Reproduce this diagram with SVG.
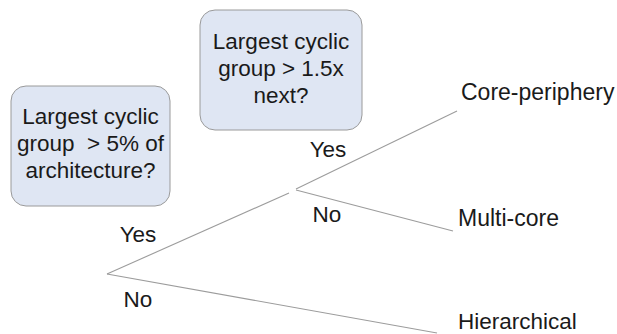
<svg xmlns="http://www.w3.org/2000/svg" width="617" height="334" viewBox="0 0 617 334">
<style>
.box{fill:#dfe6f3;stroke:#9a9a9a;stroke-width:1}
.t{font-family:"Liberation Sans",Arial,sans-serif;font-size:22.5px;fill:#1a1a1a}
.r{font-size:23px}
.c{text-anchor:middle}
.e{stroke:#9c9c9c;stroke-width:1.1;fill:none}
</style>
<rect width="617" height="334" fill="#ffffff"/>
<g id="q1">
<rect class="box" x="11" y="86" width="159" height="120" rx="15"/>
<text class="t c" x="90.5" y="124">Largest cyclic</text>
<text class="t c" x="90.5" y="151" xml:space="preserve">group  &gt; 5% of</text>
<text class="t c" x="90.5" y="178">architecture?</text>
</g>
<g id="q2">
<rect class="box" x="200" y="10" width="162" height="120" rx="15"/>
<text class="t c" x="281" y="49">Largest cyclic</text>
<text class="t c" x="281" y="76">group &gt; 1.5x</text>
<text class="t c" x="281" y="103">next?</text>
</g>
<g id="connectors">
<line class="e" x1="107" y1="274" x2="289" y2="193"/>
<line class="e" x1="107" y1="274" x2="437" y2="333"/>
<line class="e" x1="296" y1="189" x2="457" y2="111"/>
<line class="e" x1="296" y1="190" x2="453" y2="231"/>
</g>
<g id="labels">
<text class="t c" x="328" y="157">Yes</text>
<text class="t c" x="327" y="222">No</text>
<text class="t c" x="138" y="242">Yes</text>
<text class="t c" x="138" y="307">No</text>
</g>
<g id="core-periphery"><text class="t r" x="461" y="100">Core-periphery</text></g>
<g id="multi-core"><text class="t r" x="458" y="226">Multi-core</text></g>
<g id="hierarchical"><text class="t" x="458" y="329">Hierarchical</text></g>
</svg>
